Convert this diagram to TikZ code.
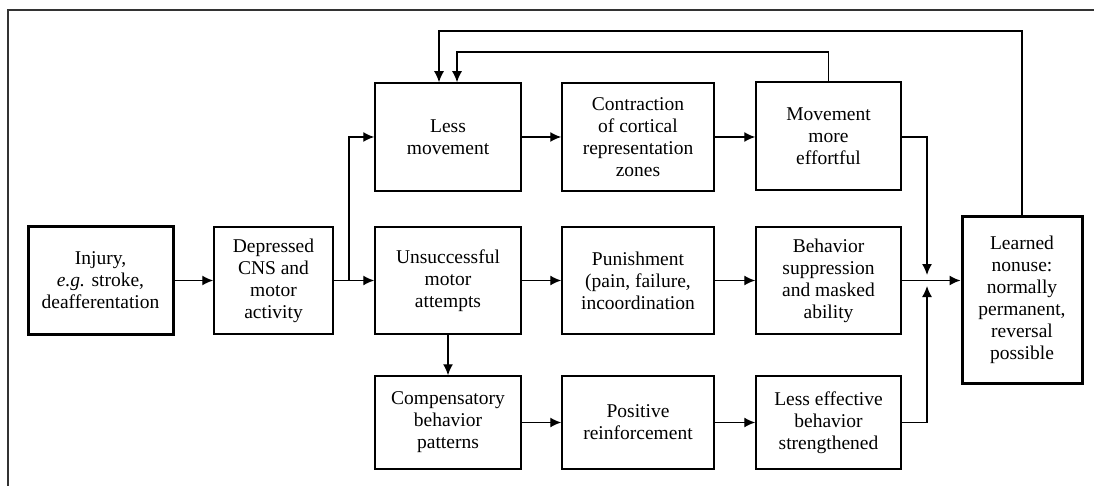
\documentclass[tikz,border=0pt]{standalone}
\usepackage{fontspec}
\setmainfont{Liberation Serif}
\usetikzlibrary{arrows.meta}
\begin{document}
\begin{tikzpicture}[x=1pt,y=-1pt,
  box/.style={draw,line width=1.5pt,rectangle,inner sep=0pt,align=center,
    font=\fontsize{19.5}{22}\selectfont},
  thickbox/.style={box,line width=3pt},
  arr/.style={line width=1.4pt,-{Latex[length=11pt,width=10pt]}},
  ln/.style={line width=1.4pt}]
\useasboundingbox (0,0) rectangle (1094,486);
\draw[line width=1.5pt,black!80] (1094,10) -- (8,10) -- (8,486);
% nodes
\node[thickbox,minimum width=145pt,minimum height=107pt] (inj) at (100.5,280.5) {Injury,\\\textit{e.g.} stroke,\\deafferentation};
\node[box,minimum width=119pt,minimum height=107pt] (dep) at (273.5,280.5) {Depressed\\CNS and\\motor\\activity};
\node[box,minimum width=146pt,minimum height=108pt] (less) at (448,137) {Less\\movement};
\node[box,minimum width=152pt,minimum height=108pt] (con) at (638,137) {Contraction\\of cortical\\representation\\zones};
\node[box,minimum width=145pt,minimum height=108pt] (mme) at (828.5,136) {Movement\\more\\effortful};
\node[box,minimum width=146pt,minimum height=107pt] (uns) at (448,280.5) {Unsuccessful\\motor\\attempts};
\node[box,minimum width=152pt,minimum height=107pt] (pun) at (638,280.5) {Punishment\\(pain, failure,\\incoordination};
\node[box,minimum width=145pt,minimum height=107pt] (bsup) at (828.5,280.5) {Behavior\\suppression\\and masked\\ability};
\node[box,minimum width=146pt,minimum height=93pt] (comp) at (448,422.5) {Compensatory\\behavior\\patterns};
\node[box,minimum width=152pt,minimum height=93pt] (pos) at (638,422.5) {Positive\\reinforcement};
\node[box,minimum width=145pt,minimum height=93pt] (lee) at (828.5,422.5) {Less effective\\behavior\\strengthened};
\node[thickbox,minimum width=120pt,minimum height=166pt] (lrn) at (1022,300) {Learned\\nonuse:\\normally\\permanent,\\reversal\\possible};
% coordinates
\coordinate (br) at (349,280.5);
\coordinate (jt) at (927,275);
\coordinate (jb) at (927,286);
\coordinate (fb1) at (439,31);
\coordinate (fb2) at (457,52);
% connectors
\draw[arr] (inj.east) -- (dep.west);
\draw[arr] (dep.east) -- (uns.west);
\draw[arr] (br) |- (less.west);
\draw[arr] (less.east) -- (con.west);
\draw[arr] (con.east) -- (con.east -| mme.west);
\draw[arr] (uns.east) -- (pun.west);
\draw[arr] (pun.east) -- (bsup.west);
\draw[arr] (uns.south) -- (comp.north);
\draw[arr] (comp.east) -- (pos.west);
\draw[arr] (pos.east) -- (lee.west);
\draw[arr] (bsup.east) -- (lrn.west |- bsup.east);
\draw[arr] (mme.east |- less.east) -| (jt);
\draw[arr] (lee.east) -| (jb);
\draw[arr] (lrn.north) |- (fb1) -- (fb1 |- less.north);
\draw[arr] (mme.north) |- (fb2) -- (fb2 |- less.north);
\end{tikzpicture}
\end{document}
